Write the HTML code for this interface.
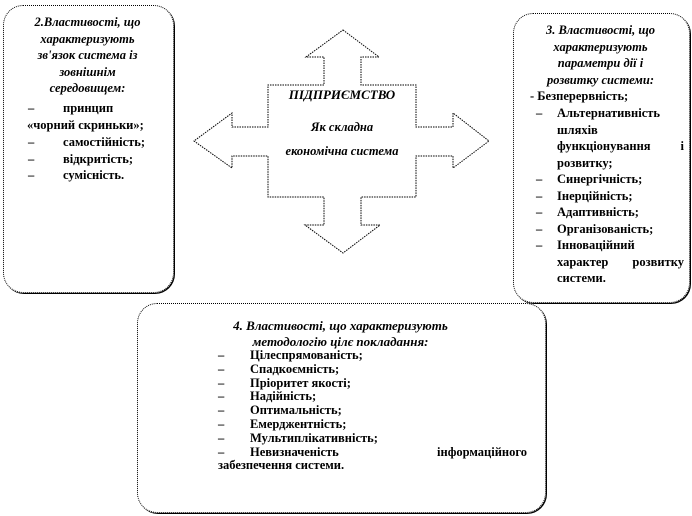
<!DOCTYPE html>
<html><head><meta charset="utf-8">
<style>
body{margin:0;width:692px;height:516px;background:#fff;position:relative;overflow:hidden;font-family:"Liberation Serif","DejaVu Serif","Times New Roman",serif;font-weight:900;font-size:12.5px;color:#000}
.box{position:absolute;border:1px dotted #000;border-radius:20px;box-shadow:1px 1px 0 #000}
.t{position:absolute;white-space:nowrap}
.i{font-style:italic}
.c{text-align:center}
</style></head><body>
<div class="box" style="left:3px;top:5px;width:169px;height:286px"></div>
<div class="box" style="left:513px;top:13px;width:175px;height:288px"></div>
<div class="box" style="left:137px;top:303px;width:407px;height:208px"></div>

<svg style="position:absolute;left:0;top:0" width="692" height="516">
<polygon points="343,30 379,57 361,57 361,85 416,85 416,127 453,127 453,113 489,141 453,168 453,156 416,156 416,197 361,197 361,225 380,225 343,253 305,225 324,225 324,197 268,197 268,156 232,156 232,168 194,141 232,113 232,127 268,127 268,85 324,85 324,57 306,57" fill="#fff" stroke="#000" stroke-width="1" stroke-dasharray="1.5,1"/>
</svg>
<div class="t c i" style="left:268px;width:148px;top:87px;font-size:13px">ПІДПРИЄМСТВО</div>
<div class="t c i" style="left:268px;width:148px;top:120px">Як складна</div>
<div class="t c i" style="left:268px;width:148px;top:144px">економічна система</div>

<div class="t c i" style="left:5px;width:165px;top:14px;line-height:16.5px">2.Властивості, що<br>характеризують<br>зв'язок система із<br>зовнішнім<br>середовищем:</div>
<div class="t" style="left:28px;top:100px;line-height:16.5px">–</div>
<div class="t" style="left:63px;top:100px;line-height:16.5px">принцип</div>
<div class="t" style="left:27px;top:117px;line-height:16.5px">«чорний скриньки»;</div>
<div class="t" style="left:28px;top:134px;line-height:16.5px">–<br>–<br>–</div>
<div class="t" style="left:63px;top:134px;line-height:16.5px">самостійність;<br>відкритість;<br>сумісність.</div>

<div class="t c i" style="left:513px;width:175px;top:22px;line-height:16.5px">3. Властивості, що<br>характеризують<br>параметри дії і<br>розвитку системи:</div>
<div class="t" style="left:530px;top:88px;line-height:16.5px">- Безперервність;</div>
<div class="t" style="left:536px;top:105px;line-height:16.5px">–<br><br><br><br>–<br>–<br>–<br>–<br>–</div>
<div class="t" style="left:557px;top:105px;line-height:16.5px;width:127px">Альтернативність<br>шляхів<br><span style="display:flex;justify-content:space-between"><span>функціонування</span><span>і</span></span>розвитку;<br>Синергічність;<br>Інерційність;<br>Адаптивність;<br>Організованість;<br>Інноваційний<br><span style="display:flex;justify-content:space-between"><span>характер</span><span>розвитку</span></span>системи.</div>

<div class="t c i" style="left:137px;width:407px;top:318px;line-height:15.5px;font-size:13px">4. Властивості, що характеризують<br>методологію цілє покладання:</div>
<div class="t" style="left:218px;top:349px;line-height:13.8px">–<br>–<br>–<br>–<br>–<br>–<br>–<br>–</div>
<div class="t" style="left:250px;top:349px;line-height:13.8px;width:277px">Цілеспрямованість;<br>Спадкоємність;<br>Пріоритет якості;<br>Надійність;<br>Оптимальність;<br>Емерджентність;<br>Мультиплікативність;<br><span style="display:flex;justify-content:space-between"><span>Невизначеність</span><span>інформаційного</span></span></div>
<div class="t" style="left:218px;top:459px;line-height:13.8px">забезпечення системи.</div>
</body></html>
